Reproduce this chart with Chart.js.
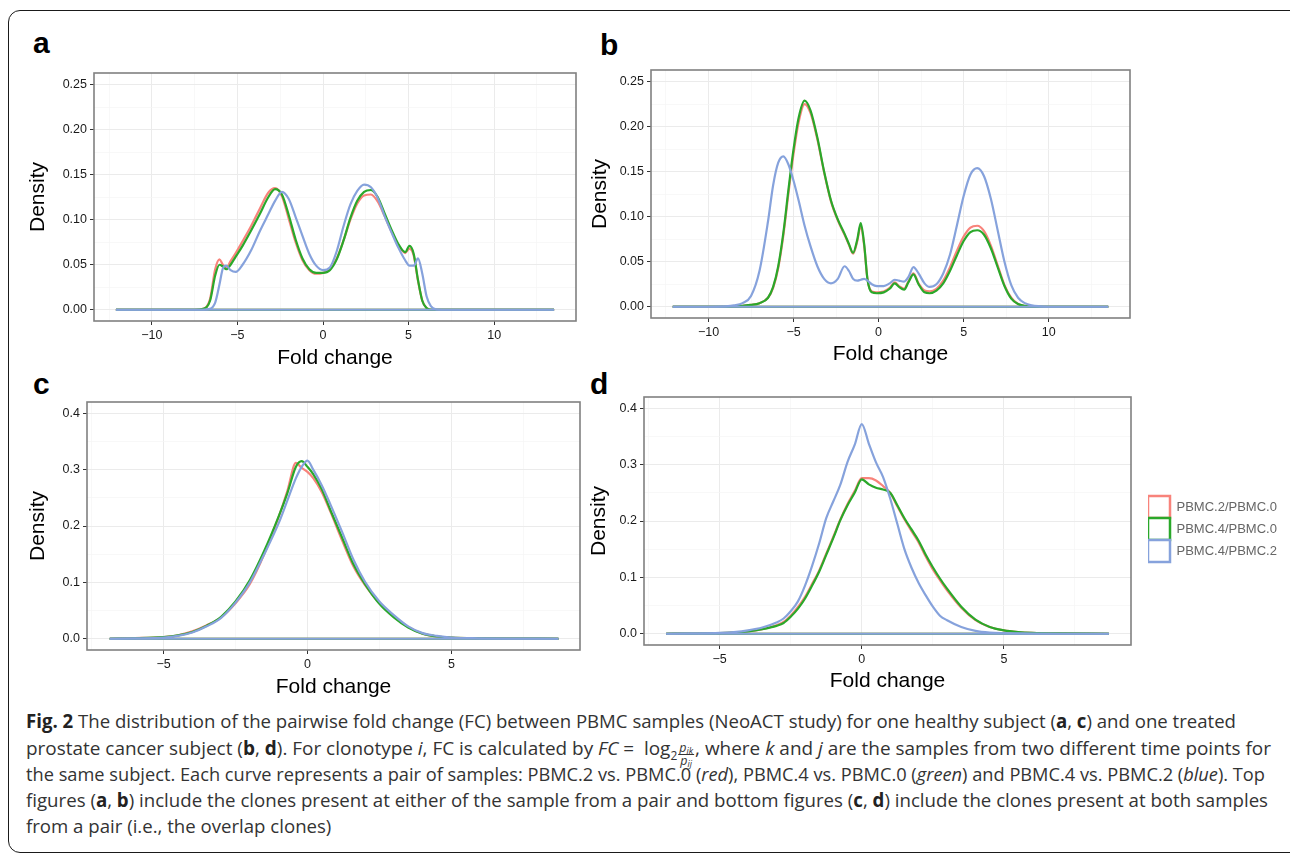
<!DOCTYPE html>
<html>
<head>
<meta charset="utf-8">
<script src="https://cdn.jsdelivr.net/npm/chart.js@4.4.1/dist/chart.umd.min.js"></script>
<style>
    body { margin: 0; background: #fff; width: 1290px; height: 856px; overflow: hidden; position: relative; font-family: 'Liberation Sans', Arial, sans-serif; }
    canvas { position: absolute; }
    .frame { position: absolute; left: 8px; top: 10px; width: 1300px; height: 843px; border: 1.5px solid #1a1a1a; border-radius: 12px; box-sizing: border-box; }
    .tag { position: absolute; font-weight: bold; font-size: 30px; line-height: 30px; color: #000; }
    .cl { position: absolute; left: 26px; white-space: nowrap; font-family: 'Open Sans', sans-serif; font-size: 19px; line-height: 26px; color: #333; transform-origin: 0 50%; }
    .cl b { color: #222; }
    .frac { display: inline-flex; flex-direction: column; vertical-align: 3px; font-size: 12.5px; line-height: 12px; text-align: center; font-style: italic; margin: 0 1px; }
    .frac .num { border-bottom: 1px solid #333; padding: 0 1px; }
    .frac sub { font-size: 9px; vertical-align: -2px; line-height: 0; }
</style>
</head>
<body>
<div class="frame"></div>

<div class="tag" style="left:33px; top:28px;">a</div>
<div class="tag" style="left:600px; top:30px;">b</div>
<div class="tag" style="left:33px; top:369px;">c</div>
<div class="tag" style="left:590px; top:369px;">d</div>

<canvas id="chartA"></canvas>
<canvas id="chartB"></canvas>
<canvas id="chartC"></canvas>
<canvas id="chartD"></canvas>

<div id="caption">
    <div class="cl" style="top:708px" data-w="1210"><b>Fig. 2</b> The distribution of the pairwise fold change (FC) between PBMC samples (NeoACT study) for one healthy subject (<b>a</b>, <b>c</b>) and one treated</div>
    <div class="cl" style="top:735px" data-w="1245">prostate cancer subject (<b>b</b>, <b>d</b>). For clonotype <i>i</i>, FC is calculated by <i>FC</i> =&nbsp; log<sub style="font-size:12px">2</sub><span class="frac"><span class="num">p<sub>ik</sub></span><span>p<sub>ij</sub></span></span>, where <i>k</i> and <i>j</i> are the samples from two different time points for</div>
    <div class="cl" style="top:761px" data-w="1239">the same subject. Each curve represents a pair of samples: PBMC.2 vs. PBMC.0 (<i>red</i>), PBMC.4 vs. PBMC.0 (<i>green</i>) and PBMC.4 vs. PBMC.2 (<i>blue</i>). Top</div>
    <div class="cl" style="top:787px" data-w="1242">figures (<b>a</b>, <b>b</b>) include the clones present at either of the sample from a pair and bottom figures (<b>c</b>, <b>d</b>) include the clones present at both samples</div>
    <div class="cl" style="top:813px">from a pair (i.e., the overlap clones)</div>
</div>

<script>
const seriesNames = ['PBMC.2/PBMC.0', 'PBMC.4/PBMC.0', 'PBMC.4/PBMC.2'];
const seriesColors = ['#f8837b', '#2aa82a', '#86a2dc'];

// panel a - healthy subject, all clones
const foldA = [-12.1, -7.5, -7.0, -6.6, -6.3, -6.05, -5.85, -5.65, -5.4, -5.1, -4.7, -4.2, -3.7, -3.2, -2.8, -2.4, -2.0, -1.6, -1.2, -0.8, -0.4, 0, 0.4, 0.8, 1.2, 1.6, 2.0, 2.4, 2.8, 3.2, 3.6, 4.0, 4.4, 4.8, 5.05, 5.3, 5.55, 5.8, 6.05, 6.3, 6.6, 7.0, 13.5];
const densA20 = [0, 0, 0.001, 0.012, 0.045, 0.056, 0.050, 0.047, 0.054, 0.063, 0.076, 0.093, 0.112, 0.130, 0.135, 0.126, 0.101, 0.075, 0.055, 0.044, 0.040, 0.041, 0.045, 0.057, 0.077, 0.100, 0.118, 0.127, 0.128, 0.120, 0.104, 0.087, 0.072, 0.063, 0.068, 0.060, 0.032, 0.010, 0.002, 0, 0, 0, 0];
const densA40 = [0, 0, 0.001, 0.010, 0.038, 0.050, 0.048, 0.045, 0.050, 0.059, 0.071, 0.088, 0.106, 0.125, 0.134, 0.128, 0.105, 0.078, 0.057, 0.045, 0.041, 0.041, 0.044, 0.056, 0.077, 0.102, 0.121, 0.131, 0.133, 0.125, 0.107, 0.089, 0.073, 0.064, 0.071, 0.062, 0.033, 0.010, 0.002, 0, 0, 0, 0];
const densA42 = [0, 0, 0, 0.001, 0.008, 0.028, 0.046, 0.049, 0.044, 0.042, 0.050, 0.066, 0.087, 0.106, 0.121, 0.131, 0.123, 0.103, 0.082, 0.062, 0.049, 0.044, 0.047, 0.065, 0.093, 0.117, 0.132, 0.139, 0.136, 0.124, 0.104, 0.086, 0.069, 0.055, 0.049, 0.049, 0.057, 0.040, 0.015, 0.004, 0.0005, 0, 0];

// panel b - treated subject, all clones
const foldB = [-12.1, -10, -9, -8.5, -8, -7.5, -7, -6.5, -6.2, -5.9, -5.6, -5.3, -5.0, -4.7, -4.35, -4.0, -3.6, -3.2, -2.8, -2.4, -2.0, -1.75, -1.5, -1.25, -1.05, -0.85, -0.65, -0.4, -0.1, 0.3, 0.65, 0.95, 1.2, 1.5, 1.75, 2.05, 2.35, 2.7, 3.0, 3.4, 3.8, 4.2, 4.6, 5.0, 5.4, 5.8, 6.2, 6.6, 7.0, 7.4, 7.8, 8.2, 8.6, 9.0, 9.5, 10, 13.5];
const densB20 = [0, 0, 0, 0.0003, 0.001, 0.002, 0.004, 0.010, 0.021, 0.043, 0.079, 0.126, 0.170, 0.205, 0.225, 0.215, 0.186, 0.149, 0.117, 0.096, 0.080, 0.069, 0.059, 0.073, 0.090, 0.068, 0.030, 0.017, 0.016, 0.017, 0.021, 0.027, 0.023, 0.020, 0.028, 0.037, 0.026, 0.018, 0.017, 0.020, 0.029, 0.044, 0.062, 0.078, 0.088, 0.090, 0.084, 0.068, 0.046, 0.024, 0.010, 0.003, 0.001, 0, 0, 0, 0];
const densB40 = [0, 0, 0, 0.0003, 0.001, 0.002, 0.004, 0.010, 0.022, 0.045, 0.082, 0.130, 0.175, 0.210, 0.229, 0.218, 0.188, 0.150, 0.118, 0.097, 0.081, 0.070, 0.060, 0.075, 0.093, 0.070, 0.030, 0.016, 0.015, 0.016, 0.020, 0.026, 0.022, 0.019, 0.027, 0.036, 0.025, 0.016, 0.015, 0.018, 0.026, 0.040, 0.057, 0.073, 0.083, 0.085, 0.080, 0.065, 0.044, 0.023, 0.009, 0.003, 0.001, 0, 0, 0, 0];
const densB42 = [0, 0, 0.0005, 0.0015, 0.004, 0.012, 0.040, 0.095, 0.135, 0.160, 0.167, 0.158, 0.140, 0.118, 0.090, 0.067, 0.045, 0.031, 0.026, 0.031, 0.045, 0.040, 0.031, 0.029, 0.030, 0.031, 0.029, 0.025, 0.023, 0.023, 0.026, 0.030, 0.029, 0.028, 0.033, 0.044, 0.037, 0.026, 0.022, 0.025, 0.037, 0.058, 0.090, 0.123, 0.147, 0.154, 0.145, 0.120, 0.085, 0.050, 0.024, 0.010, 0.004, 0.0015, 0.0005, 0, 0];

// panel c - healthy subject, overlap clones
const foldC = [-6.87, -6, -5, -4.5, -4, -3.5, -3, -2.5, -2, -1.5, -1, -0.7, -0.4, -0.2, 0, 0.2, 0.5, 0.8, 1.2, 1.6, 2, 2.5, 3, 3.5, 4, 4.5, 5, 6, 7, 8.72];
const densC20 = [0, 0.001, 0.003, 0.006, 0.013, 0.024, 0.038, 0.063, 0.097, 0.150, 0.216, 0.262, 0.312, 0.303, 0.296, 0.285, 0.260, 0.225, 0.175, 0.128, 0.095, 0.063, 0.040, 0.021, 0.009, 0.004, 0.002, 0.0008, 0.0003, 0];
const densC40 = [0, 0.0008, 0.003, 0.006, 0.012, 0.023, 0.039, 0.066, 0.104, 0.156, 0.217, 0.258, 0.305, 0.315, 0.305, 0.292, 0.265, 0.228, 0.180, 0.132, 0.097, 0.062, 0.038, 0.020, 0.009, 0.004, 0.002, 0.0008, 0.0003, 0];
const densC42 = [0, 0.0005, 0.002, 0.005, 0.011, 0.022, 0.037, 0.064, 0.100, 0.150, 0.205, 0.245, 0.285, 0.305, 0.316, 0.300, 0.272, 0.238, 0.190, 0.140, 0.101, 0.066, 0.042, 0.022, 0.010, 0.005, 0.002, 0.0008, 0.0003, 0];

// panel d - treated subject, overlap clones
const foldD = [-6.88, -6, -5, -4.5, -4, -3.5, -3, -2.75, -2.5, -2.25, -2, -1.75, -1.5, -1.25, -1, -0.75, -0.5, -0.25, 0, 0.25, 0.5, 0.75, 1, 1.25, 1.5, 1.75, 2, 2.25, 2.5, 2.75, 3, 3.5, 4, 4.5, 5, 5.5, 6, 7, 8.69];
const densD20 = [0, 0.0003, 0.001, 0.002, 0.004, 0.008, 0.015, 0.021, 0.032, 0.047, 0.065, 0.088, 0.112, 0.142, 0.172, 0.203, 0.230, 0.253, 0.276, 0.276, 0.272, 0.262, 0.250, 0.226, 0.203, 0.182, 0.162, 0.137, 0.114, 0.095, 0.077, 0.046, 0.024, 0.012, 0.006, 0.003, 0.0015, 0.0005, 0];
const densD40 = [0, 0.0003, 0.001, 0.002, 0.004, 0.008, 0.014, 0.019, 0.030, 0.044, 0.062, 0.085, 0.110, 0.140, 0.170, 0.202, 0.228, 0.250, 0.274, 0.265, 0.259, 0.256, 0.250, 0.228, 0.205, 0.185, 0.165, 0.140, 0.118, 0.098, 0.080, 0.048, 0.025, 0.012, 0.006, 0.003, 0.0015, 0.0005, 0];
const densD42 = [0, 0.0005, 0.0015, 0.003, 0.006, 0.011, 0.020, 0.027, 0.040, 0.057, 0.085, 0.120, 0.160, 0.205, 0.235, 0.265, 0.305, 0.335, 0.372, 0.337, 0.304, 0.278, 0.240, 0.195, 0.150, 0.117, 0.090, 0.068, 0.048, 0.032, 0.024, 0.012, 0.005, 0.002, 0.001, 0.0005, 0.0002, 0, 0];

const titleSize = 21;
const tickSize = 12.5;
const lineHeight = titleSize * 1.2;

const panels = [
    { id: 'chartA', xs: foldA, series: [densA20, densA40, densA42], xMin: -13.38, xMax: 14.78, yMin: -0.0125, yMax: 0.263, yStep: 0.025, yMajor: 0.05, yDigits: 2,
      canvas: { x: 0, y: 55, w: 590, h: 325 }, area: { l: 94, t: 73, r: 576, b: 321 }, titleX: 38.5, titleY: 358 },
    { id: 'chartB', xs: foldB, series: [densB20, densB40, densB42], xMin: -13.38, xMax: 14.78, yMin: -0.0125, yMax: 0.263, yStep: 0.025, yMajor: 0.05, yDigits: 2,
      canvas: { x: 585, y: 55, w: 560, h: 320 }, area: { l: 651, t: 70, r: 1130, b: 318 }, titleX: 600, titleY: 354 },
    { id: 'chartC', xs: foldC, series: [densC20, densC40, densC42], xMin: -7.66, xMax: 9.47, yMin: -0.02, yMax: 0.42, yStep: 0.05, yMajor: 0.1, yDigits: 1,
      canvas: { x: 0, y: 385, w: 590, h: 315 }, area: { l: 87, t: 402, r: 580, b: 650 }, titleX: 38.5, titleY: 687 },
    { id: 'chartD', xs: foldD, series: [densD20, densD40, densD42], xMin: -7.66, xMax: 9.47, yMin: -0.02, yMax: 0.42, yStep: 0.05, yMajor: 0.1, yDigits: 1,
      canvas: { x: 585, y: 385, w: 705, h: 315 }, area: { l: 644, t: 397, r: 1131, b: 645 }, titleX: 599.5, titleY: 681, legend: true }
];

Chart.defaults.font.family = "'Liberation Sans', Arial, sans-serif";

function isMajor(v, step) {
    return Math.abs(v / step - Math.round(v / step)) < 1e-6;
}

function fmtFold(v) {
    return v < 0 ? '\u2212' + Math.abs(v) : String(v);
}

function buildDatasets(xs, series) {
    let datasets = [];
    for (let i = 0; i < series.length; i++) {
        let points = xs.map((x, k) => ({ x: x, y: series[i][k] }));
        datasets.push({
            label: seriesNames[i],
            data: points,
            borderColor: seriesColors[i],
            borderWidth: 2.2,
            pointRadius: 0,
            cubicInterpolationMode: 'monotone',
            fill: false,
            order: series.length - i
        });
        // geom_density closes the outline along y = 0
        datasets.push({
            label: seriesNames[i] + ' base',
            data: [{ x: xs[0], y: 0 }, { x: xs[xs.length - 1], y: 0 }],
            borderColor: seriesColors[i],
            borderWidth: 2.2,
            pointRadius: 0,
            fill: false,
            order: series.length - i
        });
    }
    return datasets;
}

const panelBorder = {
    id: 'panelBorder',
    afterDraw(chart) {
        const a = chart.chartArea;
        const ctx = chart.ctx;
        ctx.save();
        ctx.strokeStyle = '#808080';
        ctx.lineWidth = 1.6;
        ctx.strokeRect(a.left, a.top, a.right - a.left, a.bottom - a.top);
        ctx.restore();
    }
};

function gridOptions(step) {
    return {
        color: (c) => c.tick && isMajor(c.tick.value, step) ? '#ebebeb' : '#f5f5f5',
        lineWidth: (c) => c.tick && isMajor(c.tick.value, step) ? 1 : 0.7,
        tickColor: (c) => c.tick && isMajor(c.tick.value, step) ? '#333' : 'rgba(0,0,0,0)',
        tickLength: 4,
        tickWidth: 1
    };
}

function legendWidth() {
    let ctx = document.createElement('canvas').getContext('2d');
    ctx.font = "13px 'Liberation Sans', Arial, sans-serif";
    let w = 0;
    for (let i = 0; i < seriesNames.length; i++) {
        w = Math.max(w, ctx.measureText(seriesNames[i]).width);
    }
    // box + half font gap + text, and the 10px Chart.js adds to vertical legends
    return 22 + 6.5 + w + 10;
}

function createPanel(p) {
    const canvas = document.getElementById(p.id);
    canvas.width = p.canvas.w;
    canvas.height = p.canvas.h;
    canvas.style.left = p.canvas.x + 'px';
    canvas.style.top = p.canvas.y + 'px';

    const yWidth = p.area.l - p.canvas.x;
    const xHeight = p.canvas.y + p.canvas.h - p.area.b;
    const gap = 17;
    let rightPad = p.canvas.x + p.canvas.w - p.area.r;
    if (p.legend) rightPad -= gap + legendWidth();

    let scales = {
        x: {
            type: 'linear', min: p.xMin, max: p.xMax,
            afterFit: (s) => { s.height = xHeight; },
            ticks: {
                stepSize: 2.5, includeBounds: false, autoSkip: false, maxRotation: 0, padding: 3,
                color: '#1a1a1a', font: { size: tickSize },
                callback: (v) => isMajor(v, 5) ? fmtFold(v) : ''
            },
            grid: gridOptions(5),
            border: { display: false },
            title: { display: true, text: 'Fold change', color: '#000', font: { size: titleSize },
                     padding: { top: 0, bottom: p.canvas.y + p.canvas.h - p.titleY - lineHeight / 2 } }
        },
        y: {
            type: 'linear', min: p.yMin, max: p.yMax,
            afterFit: (s) => { s.width = yWidth; },
            ticks: {
                stepSize: p.yStep, includeBounds: false, autoSkip: false, padding: 3,
                color: '#1a1a1a', font: { size: tickSize },
                callback: (v) => isMajor(v, p.yMajor) ? v.toFixed(p.yDigits) : ''
            },
            grid: gridOptions(p.yMajor),
            border: { display: false },
            title: { display: true, text: 'Density', color: '#000', font: { size: titleSize },
                     padding: { top: p.titleX - p.canvas.x - lineHeight / 2, bottom: 0 } }
        }
    };
    if (p.legend) {
        // empty spacer between the panel and the legend keys
        scales.y2 = {
            position: 'right', display: true,
            afterFit: (s) => { s.width = gap; },
            ticks: { display: false },
            grid: { display: false, drawTicks: false },
            border: { display: false }
        };
    }

    return new Chart(canvas.getContext('2d'), {
        type: 'line',
        data: { datasets: buildDatasets(p.xs, p.series) },
        options: {
            responsive: false,
            animation: false,
            devicePixelRatio: 1,
            layout: { padding: { left: 0, top: p.area.t - p.canvas.y, right: rightPad, bottom: 0 } },
            scales: scales,
            plugins: {
                tooltip: { enabled: false },
                legend: {
                    display: !!p.legend,
                    position: 'right',
                    align: 'center',
                    fullSize: false,
                    maxWidth: 300,
                    onClick: null,
                    title: { display: true, text: '', padding: { top: 15, bottom: 0 }, font: { size: 1, lineHeight: 1 } },
                    labels: {
                        boxWidth: 22, boxHeight: 22, padding: 0, color: '#000', font: { size: 13 },
                        generateLabels: () => seriesNames.map((name, i) => ({
                            text: name, fillStyle: '#fff', strokeStyle: seriesColors[i], lineWidth: 2.5, hidden: false, datasetIndex: i * 2
                        }))
                    }
                }
            }
        },
        plugins: [panelBorder]
    });
}

for (let i = 0; i < panels.length; i++) {
    createPanel(panels[i]);
}

function fitCaption() {
    let lines = document.querySelectorAll('.cl');
    let total = 0;
    let count = 0;
    for (let i = 0; i < lines.length; i++) {
        let target = lines[i].getAttribute('data-w');
        if (!target) continue;
        let k = parseFloat(target) / lines[i].getBoundingClientRect().width;
        lines[i].style.transform = 'scaleX(' + k + ')';
        total += k;
        count++;
    }
    // the short last line gets the same squeeze as the full lines
    for (let i = 0; i < lines.length; i++) {
        if (!lines[i].getAttribute('data-w')) {
            lines[i].style.transform = 'scaleX(' + (total / count) + ')';
        }
    }
}
fitCaption();
</script>
</body>
</html>
